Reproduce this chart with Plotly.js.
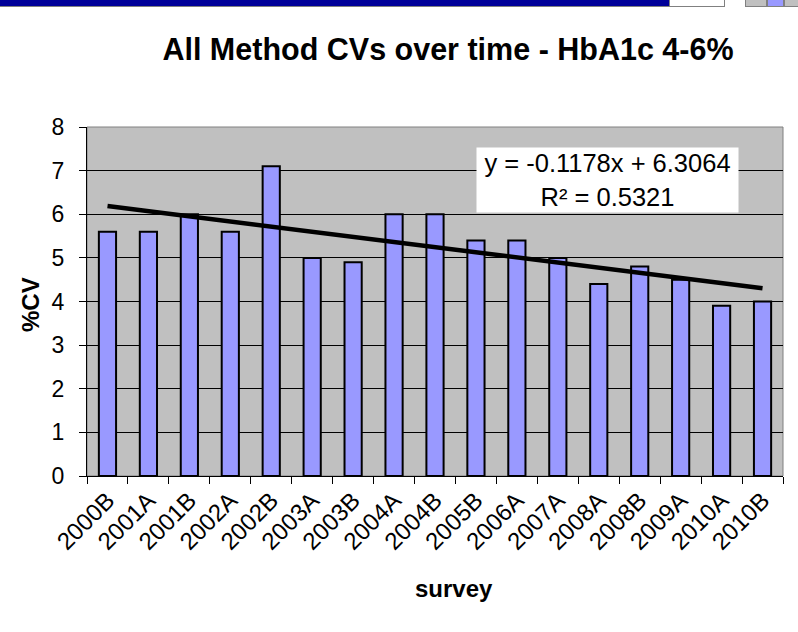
<!DOCTYPE html>
<html>
<head>
<meta charset="utf-8">
<script src="https://cdn.plot.ly/plotly-3.0.1.min.js"></script>
<style>
  html, body { margin: 0; padding: 0; background: #ffffff; }
  #chart { width: 798px; height: 632px; position: absolute; left: 0; top: 0; }
  .deco { position: absolute; top: 0; height: 6px; }
</style>
</head>
<body>
<div id="chart"></div>
<div class="deco" style="left:0;width:669px;background:#000099;border-bottom:1px solid #808080;"></div>
<div class="deco" style="left:669px;width:54px;background:#ffffff;border:1px solid #808080;border-top:none;"></div>
<div class="deco" style="left:745px;width:20px;background:#c0c0c0;border:1px solid #808080;border-top:none;"></div>
<div class="deco" style="left:767px;width:15px;background:#9999ff;border:1px solid #808080;border-top:none;"></div>
<div class="deco" style="left:784px;width:14px;background:#c0c0c0;border:1px solid #808080;border-top:none;"></div>
<script>
const surveys = ["2000B","2001A","2001B","2002A","2002B","2003A","2003B","2004A","2004B",
                 "2005B","2006A","2007A","2008A","2008B","2009A","2010A","2010B"];
const cvValues = [5.6, 5.6, 6.0, 5.6, 7.1, 5.0, 4.9, 6.0, 6.0,
                  5.4, 5.4, 5.0, 4.4, 4.8, 4.5, 3.9, 4.0];
const trendSlope = -0.1178;
const trendIntercept = 6.3064;
const trendLabel = "y = -0.1178x + 6.3064<br>R² = 0.5321";
const yTicks = [0, 1, 2, 3, 4, 5, 6, 7, 8];

const n = surveys.length;
const trendX = [surveys[0], surveys[n - 1]];
const trendY = [trendSlope * 1 + trendIntercept, trendSlope * n + trendIntercept];

const font = "Liberation Sans, Arial, sans-serif";

const data = [
  {
    type: "bar",
    x: surveys,
    y: cvValues,
    marker: { color: "#9999ff", line: { color: "#000000", width: 2 } },
    width: 0.42,
    hoverinfo: "x+y"
  },
  {
    type: "scatter",
    mode: "lines",
    x: trendX,
    y: trendY,
    line: { color: "#000000", width: 4.5 },
    hoverinfo: "skip"
  }
];

const layout = {
  width: 798,
  height: 632,
  margin: { l: 87, r: 15, t: 127, b: 156 },
  paper_bgcolor: "#ffffff",
  plot_bgcolor: "#c0c0c0",
  showlegend: false,
  font: { family: font, color: "#000000", size: 22 },
  title: {
    text: "<b>All Method CVs over time - HbA1c 4-6%</b>",
    font: { family: font, size: 30.5, color: "#000000" },
    x: 448 / 798, xanchor: "center", xref: "container",
    y: 1 - 49 / 632, yanchor: "middle", yref: "container"
  },
  xaxis: {
    type: "category",
    tickangle: -45,
    tickson: "boundaries",
    ticks: "outside",
    ticklen: 7,
    tickcolor: "#000000",
    showline: true,
    linecolor: "#000000",
    linewidth: 1,
    showgrid: false,
    tickfont: { family: font, size: 24, color: "#000000" },
    fixedrange: true
  },
  yaxis: {
    range: [0, 8],
    tickvals: yTicks,
    ticks: "outside",
    ticklen: 7,
    tickcolor: "#000000",
    ticklabelstandoff: 10,
    showline: true,
    linecolor: "#000000",
    linewidth: 1,
    showgrid: true,
    gridcolor: "#000000",
    gridwidth: 1,
    zeroline: false,
    tickfont: { family: font, size: 23, color: "#000000" },
    fixedrange: true
  },
  shapes: [
    { type: "rect", xref: "paper", yref: "paper", x0: 0, x1: 1, y0: 0, y1: 1,
      line: { color: "#808080", width: 1 }, layer: "below" }
  ],
  annotations: [
    {
      text: trendLabel,
      xref: "paper", yref: "paper",
      x: (607.5 - 87) / 696, y: 1 - (180 - 127) / 349,
      xanchor: "center", yanchor: "middle",
      showarrow: false,
      bgcolor: "#ffffff",
      width: 259, height: 62,
      align: "center",
      font: { family: font, size: 25.5, color: "#000000" }
    },
    {
      text: "<b>%CV</b>",
      xref: "paper", yref: "paper",
      x: (30 - 87) / 696, y: 1 - (305 - 127) / 349,
      xanchor: "center", yanchor: "middle",
      textangle: -90, showarrow: false,
      font: { family: font, size: 24, color: "#000000" }
    },
    {
      text: "<b>survey</b>",
      xref: "paper", yref: "paper",
      x: (454 - 87) / 696, y: 1 - (588 - 127) / 349,
      xanchor: "center", yanchor: "middle",
      showarrow: false,
      font: { family: font, size: 24, color: "#000000" }
    }
  ]
};

Plotly.newPlot("chart", data, layout, { displayModeBar: false, staticPlot: true });
</script>
</body>
</html>
